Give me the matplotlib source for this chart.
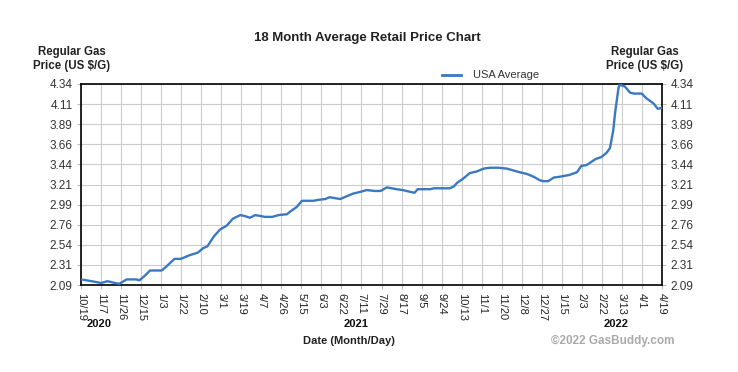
import matplotlib
matplotlib.use("Agg")
import matplotlib.pyplot as plt
import numpy as np

plt.rcParams['font.family'] = ['Liberation Sans', 'DejaVu Sans']

# Days since 10/19/2020 and USA average regular gas price ($/G)
days = [0, 10, 19, 25, 32, 36, 43, 52, 55, 60, 65, 72, 76, 80, 88, 94, 102, 110,
        115, 119, 125, 131, 137, 143, 150, 154, 159, 164, 169, 173, 180, 186, 194,
        197, 203, 208, 214, 219, 223, 230, 234, 244, 250, 256, 263, 269, 277, 282,
        288, 297, 303, 310, 314, 317, 322, 329, 332, 338, 347, 351, 354, 360, 366,
        373, 379, 385, 393, 401, 407, 413, 420, 426, 432, 435, 440, 445, 451, 460,
        467, 471, 476, 481, 485, 490, 495, 498, 501, 503, 506, 507, 512, 517, 521,
        528, 532, 539, 543, 547]
prices = [2.15, 2.13, 2.11, 2.13, 2.11, 2.10, 2.15, 2.15, 2.14, 2.19, 2.25, 2.25,
          2.25, 2.29, 2.38, 2.38, 2.42, 2.45, 2.50, 2.52, 2.63, 2.71, 2.75, 2.83,
          2.87, 2.86, 2.84, 2.87, 2.86, 2.85, 2.85, 2.87, 2.88, 2.91, 2.96, 3.03,
          3.03, 3.03, 3.04, 3.05, 3.07, 3.05, 3.08, 3.11, 3.13, 3.15, 3.14, 3.14,
          3.18, 3.16, 3.15, 3.13, 3.12, 3.16, 3.16, 3.16, 3.17, 3.17, 3.17, 3.19,
          3.23, 3.28, 3.34, 3.36, 3.39, 3.40, 3.40, 3.39, 3.37, 3.35, 3.33, 3.30,
          3.26, 3.25, 3.25, 3.29, 3.30, 3.32, 3.35, 3.42, 3.43, 3.47, 3.50, 3.52,
          3.57, 3.62, 3.81, 4.03, 4.29, 4.33, 4.31, 4.24, 4.23, 4.23, 4.18, 4.12,
          4.06, 4.07]

x_tick_labels = ['10/19', '11/7', '11/26', '12/15', '1/3', '1/22', '2/10', '3/1',
                 '3/19', '4/7', '4/26', '5/15', '6/3', '6/22', '7/11', '7/29', '8/17',
                 '9/5', '9/24', '10/13', '11/1', '11/20', '12/8', '12/27', '1/15',
                 '2/3', '2/22', '3/13', '4/1', '4/19']
y_min, y_max = 2.0875, 4.3375
y_tick_labels = ['2.09', '2.31', '2.54', '2.76', '2.99', '3.21', '3.44', '3.66',
                 '3.89', '4.11', '4.34']
total_days = 547
years = ['2020', '2021', '2022']

W, H = 738, 372
fig = plt.figure(figsize=(W / 100, H / 100), dpi=100)
fig.patch.set_facecolor('white')
ax = fig.add_axes([81 / W, 1 - 285 / H, 581 / W, 201 / H])

line_color = '#3a78c4'
ax.plot(days, prices, color=line_color, lw=1.7, solid_joinstyle='round',
        label='USA Average', zorder=3)

ax.set_xlim(0, total_days)
ax.set_ylim(y_min, y_max)
xt = np.linspace(0, total_days, len(x_tick_labels))
yt = np.linspace(y_min, y_max, len(y_tick_labels))
ax.set_xticks(xt)
ax.set_xticklabels(x_tick_labels, rotation=-90, fontsize=8, color='#222222')
ax.set_yticks(yt)
ax.set_yticklabels(y_tick_labels, fontsize=8.5, color='#333333')
ax.tick_params(axis='both', length=3, width=0.8, color='#bbbbbb', pad=3)
ax.tick_params(axis='y', which='both', left=True, right=True,
               labelleft=True, labelright=True)
ax.grid(True, color='#cccccc', lw=0.8, zorder=0)
for s in ax.spines.values():
    s.set_color('black')
    s.set_linewidth(1.2)

fig.text(367 / W, 1 - 38 / H, '18 Month Average Retail Price Chart',
         ha='center', va='center', fontsize=9.5, fontweight='bold', color='#222222')
fig.text(72 / W, 1 - 59 / H, 'Regular Gas\nPrice (US $/G)', ha='center',
         va='center', fontsize=8.3, fontweight='bold', color='#222222', linespacing=1.15)
fig.text(645 / W, 1 - 59 / H, 'Regular Gas\nPrice (US $/G)', ha='center',
         va='center', fontsize=8.3, fontweight='bold', color='#222222', linespacing=1.15)

# legend
fig.add_artist(plt.Line2D([442 / W, 461 / W], [1 - 75 / H, 1 - 75 / H],
                          color=line_color, lw=2))
fig.text(473 / W, 1 - 75 / H, 'USA Average', ha='left', va='center',
         fontsize=8, color='#333333')

for label, px in zip(years, [99, 356, 616]):
    fig.text(px / W, 1 - 324 / H, label, ha='center', va='center',
             fontsize=8, fontweight='bold', color='#111111')
fig.text(349 / W, 1 - 341 / H, 'Date (Month/Day)', ha='center', va='center',
         fontsize=8, fontweight='bold', color='#222222')
fig.text(613 / W, 1 - 341 / H, '\u00a92022 GasBuddy.com', ha='center', va='center',
         fontsize=8.5, fontweight='bold', color='#aaaaaa')

fig.savefig('out.png', dpi=100, facecolor='white')
